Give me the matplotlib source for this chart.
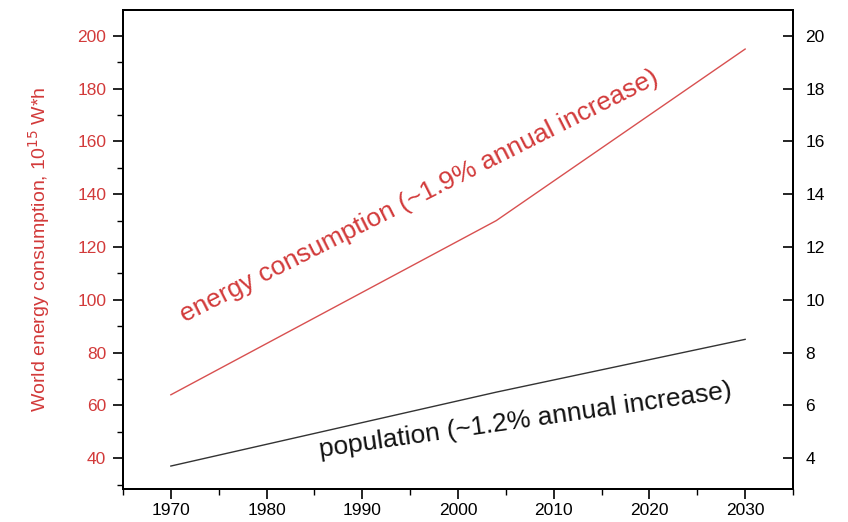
import matplotlib
matplotlib.use("Agg")
import matplotlib.pyplot as plt
from matplotlib.ticker import MultipleLocator

plt.rcParams['font.family'] = ['Liberation Sans', 'DejaVu Sans']

years_energy = [1970, 2004, 2030]
energy = [64, 130, 195]
years_pop = [1970, 2004, 2030]
population = [3.7, 6.5, 8.5]

left_ticks = [40, 60, 80, 100, 120, 140, 160, 180, 200]
right_ticks = [4, 6, 8, 10, 12, 14, 16, 18, 20]
x_ticks = [1970, 1980, 1990, 2000, 2010, 2020, 2030]

red = '#d23a3a'

fig = plt.figure(figsize=(8.48, 5.22), dpi=100)
ax = fig.add_axes([123/848, 1 - 489/522, (793 - 123)/848, (489 - 10)/522])
ax.plot(years_energy, energy, color='#d85050', lw=1.0)
ax.set_xlim(1965, 2035)
ax.set_ylim(28.3, 209.8)
ax.set_yticks(left_ticks)
ax.set_xticks(x_ticks)
ax.yaxis.set_minor_locator(MultipleLocator(10))
ax.xaxis.set_minor_locator(MultipleLocator(5))
ax.tick_params(axis='y', which='major', direction='out', length=7, width=1.2,
               colors='black', labelcolor=red, labelsize=12.5, pad=5)
ax.tick_params(axis='y', which='minor', direction='out', length=4, width=1.0)
ax.tick_params(axis='x', which='major', direction='out', length=7, width=1.2,
               labelsize=12.5, pad=3)
ax.tick_params(axis='x', which='minor', direction='out', length=4, width=1.0)
ax.set_ylabel('World energy consumption, 10$^{15}$ W*h', color=red, fontsize=14,
              labelpad=18)
for s in ax.spines.values():
    s.set_linewidth(1.4)

ax2 = ax.twinx()
ax2.plot(years_pop, population, color='#333333', lw=1.0)
ax2.set_ylim(2.83, 20.98)
ax2.set_yticks(right_ticks)
ax2.tick_params(axis='y', direction='in', length=7, width=1.2, labelsize=12.5, pad=9)
for s in ax2.spines.values():
    s.set_linewidth(1.4)

ax.text(1971.4, 91.5, 'energy consumption (~1.9% annual increase)', color=red,
        fontsize=19, rotation=26.8, rotation_mode='anchor', ha='left', va='baseline')
ax2.text(1985.6, 4.05, 'population (~1.2% annual increase)', color='#111111',
         fontsize=19, rotation=8.2, rotation_mode='anchor', ha='left', va='baseline')

fig.savefig('out.png', dpi=100)
